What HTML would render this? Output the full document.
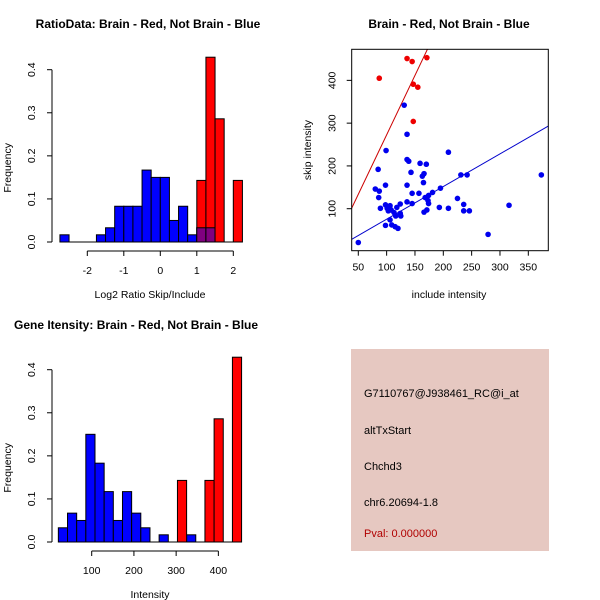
<!DOCTYPE html>
<html><head><meta charset="utf-8"><style>
body{margin:0;background:#fff}
svg{display:block;font-family:"Liberation Sans",sans-serif}
</style></head><body>
<svg id="s" width="600" height="600" viewBox="0 0 600 600">
<rect width="600" height="600" fill="#fff"/>
<g id="p1"></g>
<g id="p2"></g>
<g id="p3"></g>
<g>
<rect x="351" y="349" width="198" height="202" fill="#e6c8c1"/>
<text x="364" y="397" font-size="11">G7110767@J938461_RC@i_at</text>
<text x="364" y="434" font-size="11">altTxStart</text>
<text x="364" y="470" font-size="11">Chchd3</text>
<text x="364" y="506" font-size="11">chr6.20694-1.8</text>
<text x="364" y="537" font-size="11" fill="#b00000">Pval: 0.000000</text>
</g>
</svg>
<script>
// Plot 1 data
const ratioBinStart = -2.75, ratioBinWidth = 0.25;
const ratioBlue = [0.0167,0,0,0,0.0167,0.033,0.083,0.083,0.083,0.167,0.15,0.15,0.05,0.083,0.0167,0.033,0.033];
const ratioRed  = [0,0,0,0,0,0,0,0,0,0,0,0,0,0,0,0.143,0.429,0.286,0,0.143];
const ratioXTicks = [-2,-1,0,1,2];
const freqTicks = [0,0.1,0.2,0.3,0.4];
// Plot 2 data
const redX = [87,136,145,171,147,155,147];
const redY = [405,451,444,453,391,384,304];
const blueX = [50,80,87,86,85,89,99,98,98,98,101,103,106,108,106,109,113,115,118,120,116,124,124,125,131,136,136,139,136,136,143,145,145,157,159,163,166,165,170,168,166,171,173,174,174,181,193,195,209,209,225,231,242,236,236,246,279,316,373];
const blueY = [21,146,141,126,192,101,236,155,109,61,101,95,107,97,74,62,91,58,103,54,83,111,89,83,342,274,215,211,155,116,185,136,112,136,206,176,182,161,204,126,92,97,119,112,131,138,103,148,232,101,124,179,179,110,95,95,40,108,179];
const redFit = [-5.4, 2.78];
const blueFit = [-0.8, 0.763];
const scatXTicks = [50,100,150,200,250,300,350];
const scatYTicks = [100,200,300,400];
// Plot 3 data
const intBinStart = 21, intBinWidth = 21.7;
const intBlue = [0.033,0.067,0.05,0.25,0.183,0.117,0.05,0.117,0.067,0.033,0,0.0167,0,0,0.0167];
const intRed  = [0,0,0,0,0,0,0,0,0,0,0,0,0,0.143,0,0,0.143,0.286,0,0.429];
const intXTicks = [100,200,300,400];

const NS='http://www.w3.org/2000/svg';
function mk(parent,tag,attrs,name,text){const e=document.createElementNS(NS,tag);for(const k in attrs)e.setAttribute(k,attrs[k]);


if(text!==undefined)e.textContent=text;parent.appendChild(e);return e;}

function hist(g,cfg){
  const sx=v=>cfg.x0px+(v-cfg.x0)*cfg.kx, sy=v=>cfg.y0px-v*cfg.ky;
  const w=cfg.bw;
  cfg.blue.forEach((v,i)=>{if(v>0){const a=cfg.bs+i*w;mk(g,'rect',{x:sx(a),y:sy(v),width:sx(a+w)-sx(a),height:sy(0)-sy(v),fill:'#0000ff',stroke:'#000','stroke-width':1},'blue-bar');}});
  cfg.red.forEach((v,i)=>{if(v>0){const a=cfg.bs+i*w;mk(g,'rect',{x:sx(a),y:sy(v),width:sx(a+w)-sx(a),height:sy(0)-sy(v),fill:'#ff0000',stroke:'#000','stroke-width':1},'red-bar');
    const b=cfg.blue[i]||0;if(b>0)mk(g,'rect',{x:sx(a),y:sy(b),width:sx(a+w)-sx(a),height:sy(0)-sy(b),fill:'#800080',stroke:'#000','stroke-width':1},'overlap-bar');}});
  const n=Math.max(cfg.blue.length,cfg.red.length);
  mk(g,'line',{x1:sx(cfg.bs),x2:sx(cfg.bs+n*w),y1:sy(0),y2:sy(0),stroke:'#000'},'baseline');
  const ax=cfg.yaxX;
  mk(g,'line',{x1:ax,x2:ax,y1:sy(0),y2:sy(0.4),stroke:'#000'},'y-axis');
  freqTicks.forEach(t=>{mk(g,'line',{x1:ax-5,x2:ax,y1:sy(t),y2:sy(t),stroke:'#000'},'y-tick');
    const y=sy(t);mk(g,'text',{x:ax-17,y:y,'font-size':10.5,'text-anchor':'middle',transform:`rotate(-90 ${ax-17} ${y})`},'y-tick-label',t.toFixed(1));});
  mk(g,'text',{x:11,y:(sy(0)+sy(0.4))/2+12,'font-size':10.5,'text-anchor':'middle',transform:`rotate(-90 11 ${(sy(0)+sy(0.4))/2+12})`},'y-axis-title','Frequency');
  const ay=sy(0)+9;
  mk(g,'line',{x1:sx(cfg.xt[0]),x2:sx(cfg.xt[cfg.xt.length-1]),y1:ay,y2:ay,stroke:'#000'},'x-axis');
  cfg.xt.forEach(t=>{mk(g,'line',{x1:sx(t),x2:sx(t),y1:ay,y2:ay+5,stroke:'#000'},'x-tick');
    mk(g,'text',{x:sx(t),y:ay+23,'font-size':10.5,'text-anchor':'middle'},'x-tick-label',String(t));});
  mk(g,'text',{x:cfg.xlabX,y:ay+47,'font-size':10.5,'text-anchor':'middle'},'x-axis-title',cfg.xlab);
  mk(g,'text',{x:cfg.titleX,y:cfg.titleY,'font-size':12,'font-weight':'bold','text-anchor':cfg.anchor},'chart-title',cfg.title);
}
hist(document.getElementById('p1'),{x0:-2,x0px:87.3,kx:36.5,y0px:242,ky:430.75,bw:ratioBinWidth,bs:ratioBinStart,blue:ratioBlue,red:ratioRed,xt:ratioXTicks,yaxX:52,xlab:'Log2 Ratio Skip/Include',xlabX:150,title:'RatioData: Brain - Red, Not Brain - Blue',titleX:148,titleY:28,anchor:'middle'});
hist(document.getElementById('p3'),{x0:100,x0px:91.7,kx:0.4222,y0px:542,ky:430.75,bw:intBinWidth,bs:intBinStart,blue:intBlue,red:intRed,xt:intXTicks,yaxX:52,xlab:'Intensity',xlabX:150,title:'Gene Itensity: Brain - Red, Not Brain - Blue',titleX:14,titleY:329,anchor:'start'});

(function(){
  const g=document.getElementById('p2');
  const L=351.7,R=548.3,T=49.3,B=250.7;
  const sx=v=>358.3+(v-50)*0.5667, sy=v=>208.7-(v-100)*0.4278;
  const cp=mk(g,'clipPath',{id:'clip2'},'clip');mk(cp,'rect',{x:L,y:T,width:R-L,height:B-T},'clip-rect');
  const xl=(L-358.3)/0.5667+50, xr=(R-358.3)/0.5667+50;
  [[redFit,'#cc0000','red-fit-line'],[blueFit,'#0000cc','blue-fit-line']].forEach(([f,c,n])=>{
    mk(g,'line',{x1:sx(xl),y1:sy(f[0]+f[1]*xl),x2:sx(xr),y2:sy(f[0]+f[1]*xr),stroke:c,'clip-path':'url(#clip2)'},n);});
  blueX.forEach((v,i)=>mk(g,'circle',{cx:sx(v),cy:sy(blueY[i]),r:2.8,fill:'#0000ee'},'blue-point'));
  redX.forEach((v,i)=>mk(g,'circle',{cx:sx(v),cy:sy(redY[i]),r:2.8,fill:'#ee0000'},'red-point'));
  mk(g,'rect',{x:L,y:T,width:R-L,height:B-T,fill:'none',stroke:'#000'},'plot-box');
  scatXTicks.forEach(t=>{mk(g,'line',{x1:sx(t),x2:sx(t),y1:B,y2:B+5,stroke:'#000'},'x-tick');
    mk(g,'text',{x:sx(t),y:B+20,'font-size':10.5,'text-anchor':'middle'},'x-tick-label',String(t));});
  scatYTicks.forEach(t=>{const y=sy(t);mk(g,'line',{x1:L-5,x2:L,y1:y,y2:y,stroke:'#000'},'y-tick');
    mk(g,'text',{x:L-16,y:y,'font-size':10.5,'text-anchor':'middle',transform:`rotate(-90 ${L-16} ${y})`},'y-tick-label',String(t));});
  mk(g,'text',{x:449,y:298,'font-size':10.5,'text-anchor':'middle'},'x-axis-title','include intensity');
  mk(g,'text',{x:311,y:150,'font-size':10.5,'text-anchor':'middle',transform:'rotate(-90 311 150)'},'y-axis-title','skip intensity');
  mk(g,'text',{x:449,y:28,'font-size':12,'font-weight':'bold','text-anchor':'middle'},'chart-title','Brain - Red, Not Brain - Blue');
})();
</script>
</body></html>
